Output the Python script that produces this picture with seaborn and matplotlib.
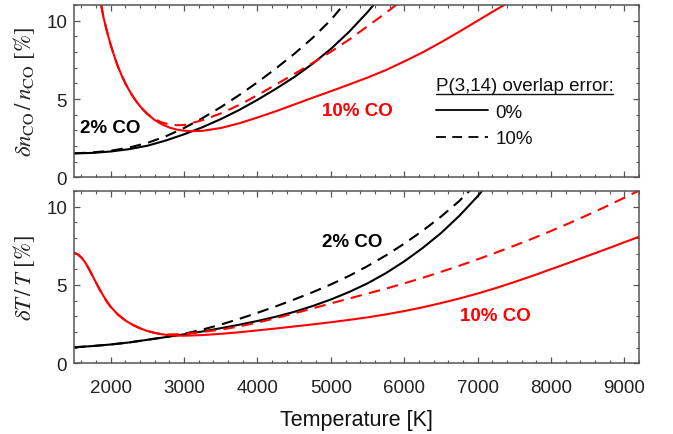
import numpy as np
import pandas as pd
import matplotlib.pyplot as plt
import seaborn as sns
from matplotlib.lines import Line2D
from matplotlib.ticker import MultipleLocator

# ---- top panel: delta n_CO / n_CO [%] ----
n_2co_0_T = [1500, 1750, 2000, 2250, 2500, 2750, 3000, 3250, 3500, 3750, 4000,
             4250, 4500, 4750, 5000, 5250, 5500, 5580]
n_2co_0 = [1.53, 1.56, 1.65, 1.8, 2.02, 2.35, 2.75, 3.2, 3.72, 4.3, 4.95,
           5.65, 6.4, 7.25, 8.2, 9.3, 10.55, 11.0]

n_2co_10_T = [1500, 1750, 2000, 2250, 2500, 2750, 3000, 3250, 3500, 3750, 4000,
              4250, 4500, 4750, 5000, 5170]
n_2co_10 = [1.53, 1.59, 1.7, 1.9, 2.2, 2.62, 3.15, 3.78, 4.48, 5.25, 6.07,
            6.95, 7.88, 8.9, 10.05, 11.0]

n_10co_0_T = [1870, 1900, 1950, 2000, 2050, 2100, 2150, 2200, 2250, 2300, 2350,
              2400, 2450, 2500, 2600, 2700, 2800, 2900, 3000, 3100, 3250, 3500,
              3750, 4000, 4250, 4500, 4750, 5000, 5250, 5500, 5750, 6000, 6250,
              6500, 6750, 7000, 7250, 7400]
n_10co_0 = [11.0, 10.25, 9.3, 8.45, 7.72, 7.05, 6.5, 6.0, 5.57, 5.18, 4.84,
            4.54, 4.28, 4.04, 3.66, 3.38, 3.18, 3.05, 2.98, 2.95, 2.97, 3.15,
            3.45, 3.82, 4.22, 4.65, 5.08, 5.5, 5.93, 6.37, 6.85, 7.4, 7.98,
            8.62, 9.3, 10.0, 10.7, 11.1]

n_10co_10_T = [1870, 1900, 1950, 2000, 2050, 2100, 2150, 2200, 2250, 2300, 2350,
               2400, 2450, 2500, 2600, 2700, 2800, 2900, 3000, 3250, 3500, 3750,
               4000, 4250, 4500, 4750, 5000, 5250, 5500, 5750, 5900]
n_10co_10 = [11.0, 10.25, 9.3, 8.45, 7.72, 7.05, 6.5, 6.0, 5.57, 5.18, 4.84,
             4.54, 4.28, 4.05, 3.72, 3.5, 3.38, 3.33, 3.34, 3.65, 4.08, 4.62,
             5.25, 5.92, 6.6, 7.3, 8.02, 8.8, 9.65, 10.5, 11.05]

# ---- bottom panel: delta T / T [%] ----
t_2co_0_T = [1500, 1750, 2000, 2250, 2500, 2750, 3000, 3250, 3500, 3750, 4000,
             4250, 4500, 4750, 5000, 5250, 5500, 5750, 6000, 6250, 6500, 6750,
             7000, 7070]
t_2co_0 = [1.02, 1.1, 1.2, 1.33, 1.5, 1.67, 1.85, 2.03, 2.24, 2.46, 2.7,
           2.97, 3.28, 3.65, 4.07, 4.55, 5.1, 5.75, 6.5, 7.35, 8.3, 9.4,
           10.65, 11.05]

t_2co_10_T = [1500, 1750, 2000, 2250, 2500, 2750, 3000, 3250, 3500, 3750, 4000,
              4250, 4500, 4750, 5000, 5250, 5500, 5750, 6000, 6250, 6500, 6750,
              6890]
t_2co_10 = [1.02, 1.1, 1.2, 1.33, 1.5, 1.68, 1.88, 2.15, 2.47, 2.83, 3.22,
            3.63, 4.07, 4.53, 5.03, 5.58, 6.2, 6.88, 7.63, 8.45, 9.35, 10.35,
            11.0]

t_10co_0_T = [1500, 1550, 1600, 1650, 1700, 1750, 1800, 1850, 1900, 1950, 2000,
              2100, 2200, 2300, 2400, 2500, 2600, 2700, 2800, 2900, 3000, 3250,
              3500, 3750, 4000, 4250, 4500, 4750, 5000, 5250, 5500, 5750, 6000,
              6250, 6500, 6750, 7000, 7250, 7500, 7750, 8000, 8250, 8500, 8750,
              9000, 9200]
t_10co_0 = [7.05, 6.95, 6.75, 6.45, 6.05, 5.6, 5.15, 4.7, 4.3, 3.92, 3.6,
            3.1, 2.73, 2.45, 2.23, 2.06, 1.94, 1.85, 1.79, 1.77, 1.76, 1.8,
            1.88, 1.98, 2.1, 2.22, 2.35, 2.48, 2.62, 2.77, 2.93, 3.12, 3.33,
            3.57, 3.84, 4.13, 4.45, 4.8, 5.18, 5.58, 6.0, 6.42, 6.85, 7.28,
            7.72, 8.07]

t_10co_10_T = [1500, 1550, 1600, 1650, 1700, 1750, 1800, 1850, 1900, 1950, 2000,
               2100, 2200, 2300, 2400, 2500, 2600, 2700, 2800, 2900, 3000, 3250,
               3500, 3750, 4000, 4250, 4500, 4750, 5000, 5250, 5500, 5750, 6000,
               6250, 6500, 6750, 7000, 7250, 7500, 7750, 8000, 8250, 8500, 8750,
               9000, 9150, 9250]
t_10co_10 = [7.05, 6.95, 6.75, 6.45, 6.05, 5.6, 5.15, 4.7, 4.3, 3.92, 3.6,
             3.1, 2.73, 2.45, 2.23, 2.06, 1.94, 1.86, 1.84, 1.85, 1.88, 2.0,
             2.15, 2.35, 2.6, 2.88, 3.18, 3.5, 3.82, 4.13, 4.45, 4.76, 5.1,
             5.45, 5.83, 6.22, 6.63, 7.06, 7.5, 7.96, 8.44, 8.94, 9.46, 10.0,
             10.56, 10.9, 11.12]

mixtures = ['2% CO', '10% CO']
errors = ['0%', '10%']
mix_colors = {'2% CO': 'black', '10% CO': '#ff0000'}
err_dashes = {'0%': '', '10%': (5.5, 3.5)}


def frame(panel, mix, err, temps, vals):
    return pd.DataFrame({'panel': panel, 'mix': mix, 'err': err,
                         'T': temps, 'val': vals})


df = pd.concat([
    frame('n', '2% CO', '0%', n_2co_0_T, n_2co_0),
    frame('n', '2% CO', '10%', n_2co_10_T, n_2co_10),
    frame('n', '10% CO', '0%', n_10co_0_T, n_10co_0),
    frame('n', '10% CO', '10%', n_10co_10_T, n_10co_10),
    frame('t', '2% CO', '0%', t_2co_0_T, t_2co_0),
    frame('t', '2% CO', '10%', t_2co_10_T, t_2co_10),
    frame('t', '10% CO', '0%', t_10co_0_T, t_10co_0),
    frame('t', '10% CO', '10%', t_10co_10_T, t_10co_10),
], ignore_index=True)

sns.set_theme(style='ticks')
plt.rcParams['font.family'] = ['Liberation Sans', 'DejaVu Sans']
plt.rcParams['mathtext.fontset'] = 'stix'

fig = plt.figure(figsize=(6.73, 4.35), dpi=100)
ax1 = fig.add_axes([0.110, 0.590, 0.8395, 0.396])
ax2 = fig.add_axes([0.110, 0.1625, 0.8395, 0.3965])

for ax, panel in [(ax1, 'n'), (ax2, 't')]:
    sns.lineplot(data=df[df['panel'] == panel], x='T', y='val',
                 hue='mix', style='err', hue_order=mixtures, style_order=errors,
                 palette=mix_colors, dashes=err_dashes, estimator=None,
                 sort=True, legend=False, lw=1.5, ax=ax)
    ax.set_xlim(1500, 9200)
    ax.set_ylim(0, 11)
    ax.xaxis.set_major_locator(MultipleLocator(1000))
    ax.xaxis.set_minor_locator(MultipleLocator(200))
    ax.yaxis.set_major_locator(MultipleLocator(5))
    ax.yaxis.set_minor_locator(MultipleLocator(1))
    ax.tick_params(which='both', direction='in', top=True, right=True,
                   color='#555555', labelsize=13.5, labelcolor='#222222')
    ax.tick_params(which='major', length=4, width=0.9, pad=5)
    ax.tick_params(which='minor', length=2, width=0.8)
    ax.tick_params(axis='x', which='major', pad=11)
    for sp in ax.spines.values():
        sp.set_color('#555555')
        sp.set_linewidth(1.1)
    ax.set_xlabel('')

ax1.tick_params(axis='x', labelbottom=False)
ax1.set_ylabel(r'$\delta n_{\rm CO}\,/\,n_{\rm CO}$ [%]', fontsize=16.5,
               family='STIXGeneral', color='#222222')
ax2.set_ylabel(r'$\delta T\,/\,T$ [%]', fontsize=16.5,
               family='STIXGeneral', color='#222222')
ax1.yaxis.set_label_coords(-0.066, 0.5)
ax2.yaxis.set_label_coords(-0.066, 0.5)
ax2.set_xlabel('Temperature [K]', fontsize=15.5, color='#111111', labelpad=10)

# curve labels
ax1.text(1580, 3.2, '2% CO', fontsize=13.5, fontweight='bold', color='black',
         ha='left', va='center')
ax1.text(4880, 4.25, '10% CO', fontsize=13.5, fontweight='bold', color='#ff0000',
         ha='left', va='center')
ax2.text(4880, 7.8, '2% CO', fontsize=13.5, fontweight='bold', color='black',
         ha='left', va='center')
ax2.text(6760, 3.07, '10% CO', fontsize=13.5, fontweight='bold', color='#ff0000',
         ha='left', va='center')

handles = [Line2D([], [], color='black', lw=1.3),
           Line2D([], [], color='black', lw=1.3, dashes=(5.5, 3.5))]
leg = ax1.legend(handles, errors, title='P(3,14) overlap error:',
                 loc='upper left', bbox_to_anchor=(0.64, 0.58), frameon=False,
                 fontsize=13.5, title_fontsize=13.5, handlelength=2.8,
                 handletextpad=0.4, labelspacing=0.5, borderpad=0,
                 borderaxespad=0, alignment='left')
for t in leg.get_texts():
    t.set_color('#111111')
leg.get_title().set_color('#111111')

# underline the legend title
fig.canvas.draw()
bb = leg.get_title().get_window_extent().transformed(fig.transFigure.inverted())
fig.add_artist(Line2D([bb.x0, bb.x1], [bb.y0 + 0.002, bb.y0 + 0.002],
                      color='#111111', lw=1.0, transform=fig.transFigure))

fig.savefig('out.png', dpi=100)
